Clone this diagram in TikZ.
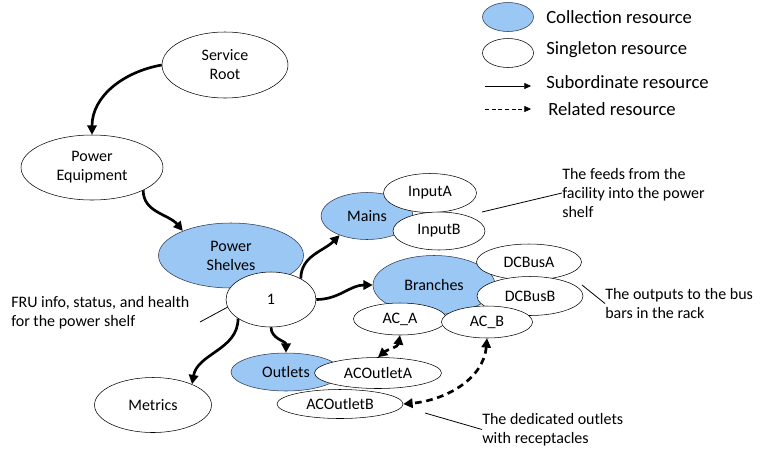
\documentclass[tikz,border=0pt]{standalone}
\usepackage{fontspec}
\setmainfont{Carlito}
\usepackage{tikz}
\usetikzlibrary{shapes.geometric,arrows.meta}
\definecolor{collfill}{RGB}{155,199,245}
\definecolor{collline}{RGB}{45,55,80}

\begin{document}
\begin{tikzpicture}[x=0.75pt,y=-0.75pt,
		font=\fontsize{12}{14.25}\selectfont,
		res/.style={ellipse,draw,inner sep=0pt,align=center},
		collection/.style={res,draw=collline,fill=collfill},
		singleton/.style={res,fill=white},
		sub/.style={line width=2pt,-{Triangle[length=7pt,width=7pt]}},
		rel/.style={line width=2pt,dash pattern=on 5pt off 3.5pt,{Triangle[length=7pt,width=7pt]}-{Triangle[length=7pt,width=7pt]}},
		note/.style={align=left,inner sep=0pt,anchor=west},
		legend/.style={note,font=\fontsize{14}{16}\selectfont},
		pointer/.style={line width=0.6pt}]
		\useasboundingbox (0,0) rectangle (770,458);

		\node[singleton,minimum width=94.5pt,minimum height=49.5pt] (root) at (225,65) {Service\\Root};
		\node[singleton,minimum width=106.5pt,minimum height=48.75pt] (equip) at (92,167.5) {Power\\Equipment};
		\node[collection,minimum width=108.75pt,minimum height=48.75pt] (shelves) at (231,255.5) {Power\\Shelves};
		\node[singleton,minimum width=67.5pt,minimum height=41.25pt] (one) at (271,299.5) {1};
		\node[singleton,minimum width=87.75pt,minimum height=41.25pt] (metrics) at (153,405) {Metrics};

		\node[collection,minimum width=82.5pt,minimum height=28.5pt] (outlets) at (286,372) {Outlets};
		\node[singleton,minimum width=95.25pt,minimum height=23.25pt] (acouta) at (378,373) {ACOutletA};
		\node[singleton,minimum width=94.5pt,minimum height=21.75pt] (acoutb) at (340,404) {ACOutletB};

		\node[collection,minimum width=69pt,minimum height=35.25pt] (mains) at (367,216) {Mains};
		\node[singleton,minimum width=69.75pt,minimum height=29.25pt] (inputa) at (430,193) {InputA};
		\node[singleton,minimum width=69pt,minimum height=28.5pt] (inputb) at (439,231) {InputB};

		\node[collection,minimum width=91.5pt,minimum height=44.25pt] (branches) at (434,285) {Branches};
		\node[singleton,minimum width=78.75pt,minimum height=27pt] (dcbusa) at (529,262) {DCBusA};
		\node[singleton,minimum width=79.5pt,minimum height=29.25pt] (dcbusb) at (530,296) {DCBusB};
		\node[singleton,minimum width=69.75pt,minimum height=24pt] (aca) at (400,319) {AC\_A};
		\node[singleton,minimum width=68.25pt,minimum height=24pt] (acb) at (487,322) {AC\_B};

		\draw[sub] (root.west) to[out=190,in=90] (equip.north);
		\draw[sub] (equip.-24) to[out=-90,in=130] (shelves.153);
		\draw[sub] (one.35) to[out=90,in=-135] (mains.-145);
		\draw[sub] (one.east) to[out=0,in=180] (branches.west);
		\draw[sub] (one.south) to[out=-90,in=90] (outlets.north);
		\draw[sub] (one.210) to[out=-90,in=80] (metrics.28);
		\draw[rel] (aca.south) to[out=-100,in=40] (acouta.north);
		\draw[rel] (acb.south) to[out=-95,in=5] (acoutb.east);

		\node[note] (feeds) at (562,193) {The feeds from the\\facility into the power\\shelf};
		\coordinate (feedsfrom) at (482,212);
		\draw[pointer] (feedsfrom) -- (feeds.west);
		\node[note] (outputs) at (605,303.5) {The outputs to the bus\\bars in the rack};
		\coordinate (outputsfrom) at (582,285);
		\draw[pointer] (outputsfrom) -- (outputs.west);
		\node[note] (dedicated) at (482,429.5) {The dedicated outlets\\with receptacles};
		\coordinate (dedicatedfrom) at (425,413);
		\draw[pointer] (dedicatedfrom) -- (dedicated.west);
		\node[note] (fru) at (11,312.5) {FRU info, status, and health\\for the power shelf};
		\coordinate (frufrom) at (200,322);
		\draw[pointer] (frufrom) -- (one.190);

		\node[collection,minimum width=38.25pt,minimum height=21.75pt] (legcoll) at (508,17) {};
		\node[legend] (legcolltext) at (546,17) {Collection resource};
		\node[singleton,minimum width=38.25pt,minimum height=21.75pt] (legsing) at (508,53) {};
		\node[legend] (legsingtext) at (546,50) {Singleton resource};
		\coordinate (legsubfrom) at (485,86);
		\coordinate (legsubto) at (531,86);
		\draw[-{Triangle[length=5pt,width=4.5pt]}] (legsubfrom) -- (legsubto);
		\node[legend] (legsubtext) at (546,82) {Subordinate resource};
		\coordinate (legrelfrom) at (485,109);
		\coordinate (legrelto) at (531,109);
		\draw[dash pattern=on 3pt off 2pt,-{Triangle[length=5pt,width=4.5pt]}] (legrelfrom) -- (legrelto);
		\node[legend] (legreltext) at (548,109) {Related resource};
\end{tikzpicture}
\end{document}
